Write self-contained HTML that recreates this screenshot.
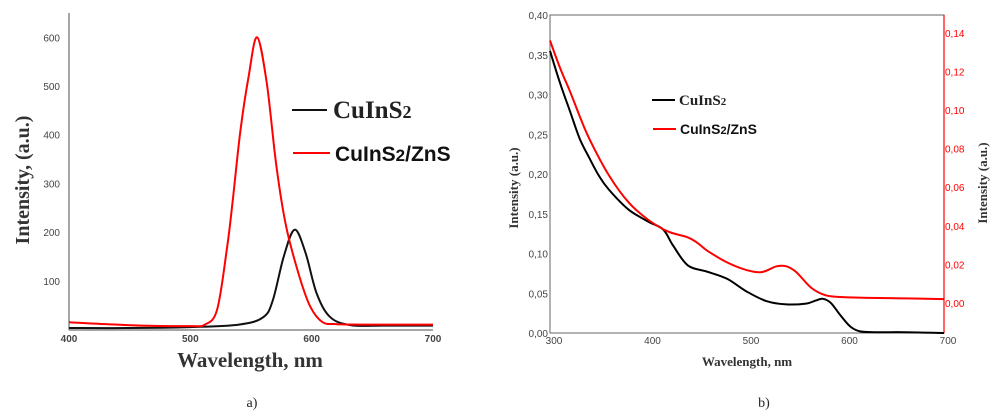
<!DOCTYPE html>
<html><head><meta charset="utf-8"><style>
body{margin:0;background:#fff;width:1001px;height:416px;overflow:hidden}
svg{display:block}
.tk{font-family:"Liberation Sans",sans-serif;font-size:10px;fill:#444}
.ser{font-family:"Liberation Serif",serif;font-weight:bold}
</style></head><body>
<svg id="c" width="1001" height="416"></svg>
<script>
// Panel a) photoluminescence
const aWl = [400,430,460,500,512,522,530,535,541,548,555,563,571,579,590,599,609,620,640,670,700];
const aRed = [15,11,8,7,10,40,163,266,403,519,600,506,334,211,108,46,15,11,10,10,10];
const bWlA = [400,450,500,540,560,568,577,586,595,604,615,632,660,700];
const aBlack = [3,3,5,10,25,60,150,205,157,75,26,9,8,8];
const aXTicks = [400,500,600,700];
const aYTicks = [0,100,200,300,400,500,600];
// Panel b) absorption
const bWl = [300,310,320,330,340,350,360,380,400,415,425,440,460,480,500,520,540,560,570,577,585,595,605,615,630,660,700];
const bBlack = [0.355,0.315,0.28,0.245,0.22,0.197,0.18,0.155,0.14,0.13,0.11,0.085,0.077,0.068,0.052,0.04,0.036,0.037,0.041,0.043,0.038,0.022,0.008,0.002,0.001,0.001,0];
const bWlR = [300,310,320,330,340,360,380,400,420,440,450,460,480,500,515,530,540,550,565,580,600,650,700];
const bRed = [0.136,0.122,0.11,0.097,0.085,0.066,0.052,0.043,0.037,0.034,0.031,0.027,0.021,0.017,0.016,0.019,0.019,0.016,0.008,0.004,0.003,0.0025,0.002];
const bXTicks = [300,400,500,600,700];
const bYL = [0,0.05,0.10,0.15,0.20,0.25,0.30,0.35,0.40];
const bYR = [0,0.02,0.04,0.06,0.08,0.10,0.12,0.14];

const svg=document.getElementById('c');const NS='http://www.w3.org/2000/svg';
function el(t,a,txt){const e=document.createElementNS(NS,t);for(const k in a)e.setAttribute(k,a[k]);if(txt!==undefined)e.textContent=txt;svg.appendChild(e);return e;}
const ax=v=>69+(v-400)*364/300, ay=v=>329.5-v*0.487;
const bx=v=>550+(v-300)*394/400, byL=v=>333-v*318/0.4, byR=v=>303-v*1930;
function path(xs,ys,fx,fy){
  const p=xs.map((x,i)=>[fx(x),fy(ys[i])]);
  let d='M'+p[0][0].toFixed(1)+' '+p[0][1].toFixed(1);
  for(let i=0;i<p.length-1;i++){
    const p0=p[Math.max(0,i-1)],p1=p[i],p2=p[i+1],p3=p[Math.min(p.length-1,i+2)];
    const c1=[p1[0]+(p2[0]-p0[0])/6,p1[1]+(p2[1]-p0[1])/6];
    const c2=[p2[0]-(p3[0]-p1[0])/6,p2[1]-(p3[1]-p1[1])/6];
    d+=' C'+c1.map(v=>v.toFixed(1)).join(' ')+' '+c2.map(v=>v.toFixed(1)).join(' ')+' '+p2[0].toFixed(1)+' '+p2[1].toFixed(1);
  }
  return d;
}

let e;
e=el('line',{x1:69,y1:13,x2:69,y2:330,stroke:'#888','stroke-width':1.5});
e=el('line',{x1:69,y1:330,x2:433,y2:330,stroke:'#888','stroke-width':1.5});
aYTicks.forEach(v=>{if(v===0)return;e=el('text',{x:60,y:ay(v)+4,'text-anchor':'end',class:'tk'},v);});
aXTicks.forEach(v=>{e=el('text',{x:ax(v),y:342,'text-anchor':'middle',class:'tk','font-weight':'bold'},v);});
e=el('path',{d:path(bWlA,aBlack,ax,ay),fill:'none',stroke:'#111','stroke-width':2});
e=el('path',{d:path(aWl,aRed,ax,ay),fill:'none',stroke:'#f00','stroke-width':2});
e=el('text',{x:250,y:367,'text-anchor':'middle',class:'ser','font-size':21,fill:'#333'},'Wavelength, nm');
e=el('text',{x:0,y:0,'text-anchor':'middle',class:'ser','font-size':20,fill:'#333',transform:'translate(29,180) rotate(-90)'},'Intensity, (a.u.)');
e=el('line',{x1:292,y1:110,x2:327,y2:110,stroke:'#111','stroke-width':2});
e=el('text',{x:333,y:118,class:'ser','font-size':25,fill:'#222'},'');
e.innerHTML='CuInS<tspan font-size="18">2</tspan>';
e=el('line',{x1:293,y1:153,x2:330,y2:153,stroke:'#f00','stroke-width':2});
e=el('text',{x:335,y:161,'font-family':'Liberation Sans,sans-serif','font-weight':'bold','font-size':21,fill:'#111'},'');
e.innerHTML='CuInS<tspan font-size="17">2</tspan>/ZnS';

e=el('rect',{x:550,y:15,width:394,height:318,fill:'none',stroke:'#666','stroke-width':1});
e=el('line',{x1:944,y1:15,x2:944,y2:333,stroke:'#f00','stroke-width':1.2});
bYL.forEach(v=>{e=el('text',{x:548,y:byL(v)+4,'text-anchor':'end',class:'tk'},v.toFixed(2).replace('.',','));});
bYR.forEach(v=>{e=el('text',{x:945,y:byR(v)+4,class:'tk',style:'fill:#f00'},v.toFixed(2).replace('.',','));});
bXTicks.forEach(v=>{e=el('text',{x:bx(v)+4,y:344,'text-anchor':'middle',class:'tk'},v);});
e=el('path',{d:path(bWl,bBlack,bx,byL),fill:'none',stroke:'#000','stroke-width':2});
e=el('path',{d:path(bWlR,bRed,bx,byR),fill:'none',stroke:'#f00','stroke-width':2});
e=el('text',{x:747,y:366,'text-anchor':'middle',class:'ser','font-size':13,fill:'#333'},'Wavelength, nm');
e=el('text',{x:0,y:0,'text-anchor':'middle',class:'ser','font-size':13,fill:'#333',transform:'translate(518,188) rotate(-90)'},'Intensity (a.u.)');
e=el('text',{x:0,y:0,'text-anchor':'middle',class:'ser','font-size':13,fill:'#333',transform:'translate(987,183) rotate(-90)'},'Intensity (a.u.)');
e=el('line',{x1:652,y1:100,x2:675,y2:100,stroke:'#000','stroke-width':2});
e=el('text',{x:679,y:105,class:'ser','font-size':15,fill:'#222'},'');
e.innerHTML='CuInS<tspan font-size="11">2</tspan>';
e=el('line',{x1:653,y1:129,x2:676,y2:129,stroke:'#f00','stroke-width':2});
e=el('text',{x:680,y:134,'font-family':'Liberation Sans,sans-serif','font-weight':'bold','font-size':14,fill:'#111'},'');
e.innerHTML='CuInS<tspan font-size="11">2</tspan>/ZnS';

e=el('text',{x:252,y:407,'text-anchor':'middle','font-family':'Liberation Serif,serif','font-size':14,fill:'#222'},'a)');
e=el('text',{x:764,y:407,'text-anchor':'middle','font-family':'Liberation Serif,serif','font-size':14,fill:'#222'},'b)');
</script>
</body></html>
